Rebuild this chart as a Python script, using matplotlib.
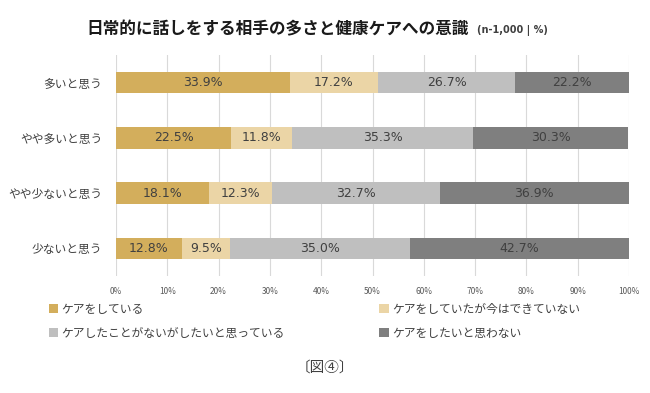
import matplotlib.pyplot as plt
from matplotlib.patches import Patch

plt.rcParams['font.family'] = ['Noto Sans CJK JP', 'DejaVu Sans']

# categories (top to bottom)
categories = ['多いと思う', 'やや多いと思う', 'やや少ないと思う', '少ないと思う']

# series values (%)
series_names = ['ケアをしている', 'ケアをしていたが今はできていない',
                'ケアしたことがないがしたいと思っている', 'ケアをしたいと思わない']
caring = [33.9, 22.5, 18.1, 12.8]
stopped = [17.2, 11.8, 12.3, 9.5]
want_to = [26.7, 35.3, 32.7, 35.0]
not_want = [22.2, 30.3, 36.9, 42.7]

colors = ['#D3AE5C', '#EBD5A6', '#BFBFBF', '#7F7F7F']
tick_labels = [f'{v}%' for v in range(0, 101, 10)]

fig = plt.figure(figsize=(6.5, 3.93), dpi=100)
ax = fig.add_axes([116 / 650, 1 - 276 / 393, (629 - 116) / 650, (276 - 55) / 393])

ypos = list(range(len(categories)))
left = [0.0] * len(categories)
for vals, col in zip([caring, stopped, want_to, not_want], colors):
    bars = ax.barh(ypos, vals, left=left, height=0.39, color=col, zorder=2)
    for b, v in zip(bars, vals):
        ax.text(b.get_x() + b.get_width() / 2, b.get_y() + b.get_height() / 2,
                f'{v:.1f}%', ha='center', va='center', fontsize=9,
                color='#404040', family=['DejaVu Sans'], zorder=3)
    left = [l + v for l, v in zip(left, vals)]

ax.set_xlim(0, 100)
ax.set_ylim(3.5, -0.5)
ax.set_xticks(range(0, 101, 10))
ax.set_xticklabels(tick_labels, fontsize=6, color='#595959')
ax.set_yticks(ypos)
ax.set_yticklabels(categories, fontsize=8.5, color='#404040')
ax.tick_params(length=0)
ax.tick_params(axis='y', pad=10)
ax.tick_params(axis='x', pad=8)
ax.xaxis.grid(True, color='#D9D9D9', linewidth=0.8, zorder=0)
for s in ax.spines.values():
    s.set_visible(False)

fig.text(469 / 650, 1 - 29 / 393, '日常的に話しをする相手の多さと健康ケアへの意識',
         ha='right', va='center', fontsize=12, fontweight='bold', color='#1a1a1a')
fig.text(477 / 650, 1 - 31 / 393, '(n-1,000 | %)', ha='left', va='center',
         fontsize=7, fontweight='bold', color='#404040', family=['DejaVu Sans'])

handles = [Patch(facecolor=c, edgecolor='none') for c in colors]
order = [0, 2, 1, 3]
fig.legend([handles[i] for i in order], [series_names[i] for i in order],
           ncol=2, loc='upper left', bbox_to_anchor=(38 / 650, 1 - 292 / 393),
           frameon=False, fontsize=8.5, handlelength=0.8, handleheight=0.8,
           handletextpad=0.3, columnspacing=8.0, labelspacing=0.95,
           labelcolor='#404040')

fig.text(325 / 650, 1 - 368 / 393, '〔図④〕', ha='center', va='center',
         fontsize=10.5, color='#404040')

fig.savefig('out.png', dpi=100, facecolor='white')
